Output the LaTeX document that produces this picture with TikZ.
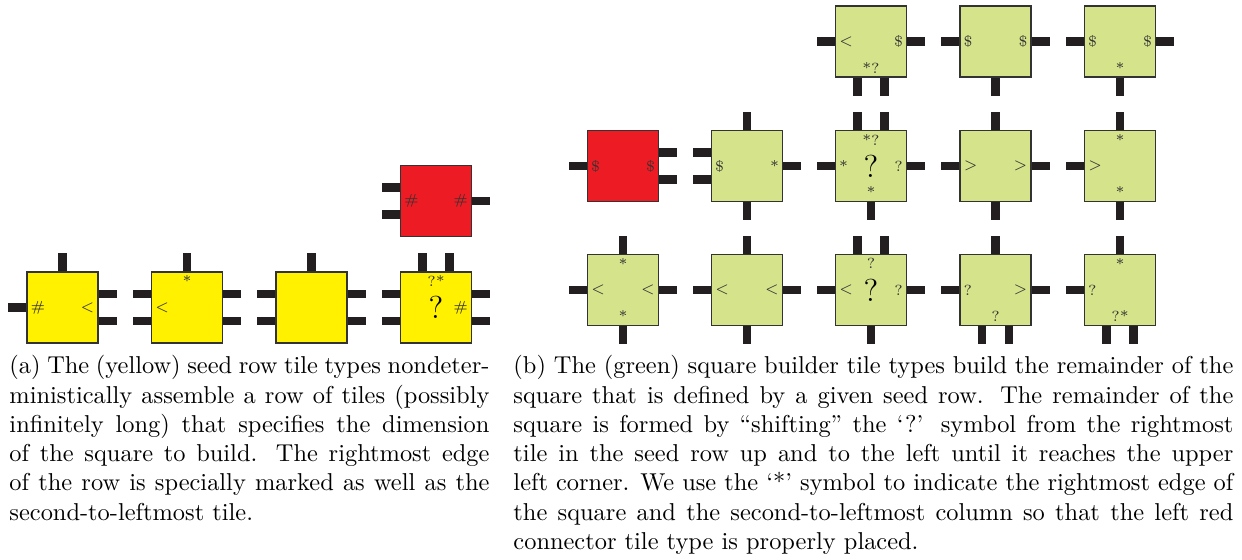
\documentclass[tikz,border=0pt]{standalone}
\usepackage{tikz}

\definecolor{seedyellow}{HTML}{FFF100}
\definecolor{capred}{HTML}{ED1C24}
\definecolor{buildgreen}{HTML}{D5E38B}
\definecolor{glue}{HTML}{231F20}

\begin{document}
\begin{tikzpicture}[
  x=0.4098pt, y=-0.4098pt,
  tile/.style={
    draw=black!80, line width=0.5pt, minimum size=29.1pt, inner sep=0pt,
    font=\fontsize{13}{15}\selectfont
  },
  seed/.style={tile, fill=seedyellow},
  build/.style={tile, fill=buildgreen},
  captile/.style={tile, fill=capred},
  sym/.style={font=\fontsize{6}{7}\selectfont, text=black!80, inner sep=1.5pt},
  symN/.style={label={[sym, anchor=north]north:#1}},
  symS/.style={label={[sym, anchor=south]south:#1}},
  symW/.style={label={[sym, anchor=west]west:#1}},
  symE/.style={label={[sym, anchor=east]east:#1}},
  tab/.style={draw=glue, line width=3.5pt},
  captext/.style={anchor=north west, inner sep=0pt, align=justify, font=\normalsize}
  ]
  \useasboundingbox (0,0) rectangle (1242,560);

  % (a) seed row
  \node [seed, symW=\#, symE=$<$] (seed1) at (62.5,307.5) {};
  \node [seed, symN=*, symW=$<$] (seed2) at (187,307.5) {};
  \node [seed] (seed3) at (311.5,307.5) {};
  \node [seed, symN=?*, symE=\#] (seed4) at (436,307.5) {?};
  \node [captile, symW=\#, symE=\#] (seedcap) at (436,201) {};

  % (b) square builder
  \node [build, symW=$<$, symE=\$, symS=*?] (sq13) at (871,41.5) {};
  \node [build, symW=\$, symE=\$] (sq14) at (995.5,41.5) {};
  \node [build, symW=\$, symE=\$, symS=*] (sq15) at (1120,41.5) {};

  \node [captile, symW=\$, symE=\$] (sqcap) at (623,166) {};
  \node [build, symW=\$, symE=*] (sq22) at (747,166) {};
  \node [build, symN=*?, symW=*, symE=?, symS=*] (sq23) at (871,166) {?};
  \node [build, symW=$>$, symE=$>$] (sq24) at (995.5,166) {};
  \node [build, symN=*, symW=$>$, symS=*] (sq25) at (1120,166) {};

  \node [build, symN=*, symW=$<$, symE=$<$, symS=*] (sq31) at (623,290) {};
  \node [build, symW=$<$, symE=$<$] (sq32) at (747,290) {};
  \node [build, symN=?, symW=$<$, symE=?] (sq33) at (871,290) {?};
  \node [build, symW=?, symE=$>$, symS=?] (sq34) at (995.5,290) {};
  \node [build, symN=*, symW=?, symS=?*] (sq35) at (1120,290) {};

  % glue tabs
  \foreach \t in {seed1,seed2,seed3,sq22,sq24,sq25,sq31,sq32,sq34,sq35}
    \draw [tab] (\t.north) -- ++(0,-18);
  \foreach \t in {seed4,sq23,sq33}
    \draw [tab] ([xshift=-5.5pt]\t.north) -- ++(0,-18)
                ([xshift=5.5pt]\t.north) -- ++(0,-18);
  \foreach \t in {sq14,sq15,sq22,sq23,sq24,sq25,sq31,sq32,sq33}
    \draw [tab] (\t.south) -- ++(0,18);
  \foreach \t in {sq13,sq34,sq35}
    \draw [tab] ([xshift=-5.5pt]\t.south) -- ++(0,18)
                ([xshift=5.5pt]\t.south) -- ++(0,18);
  \foreach \t in {seed1,sqcap,sq13,sq14,sq15,sq23,sq24,sq25,sq31,sq32,sq33,sq34,sq35}
    \draw [tab] (\t.west) -- ++(-18,0);
  \foreach \t in {seed2,seed3,seed4,seedcap,sq22}
    \draw [tab] ([yshift=5.5pt]\t.west) -- ++(-18,0)
                ([yshift=-5.5pt]\t.west) -- ++(-18,0);
  \foreach \t in {seedcap,sq13,sq14,sq15,sq22,sq23,sq24,sq31,sq32,sq33,sq34}
    \draw [tab] (\t.east) -- ++(18,0);
  \foreach \t in {seed1,seed2,seed3,seed4,sqcap}
    \draw [tab] ([yshift=5.5pt]\t.east) -- ++(18,0)
                ([yshift=-5.5pt]\t.east) -- ++(18,0);

  % captions
  \node [captext, text width=196.7pt] (capa) at (9,355) {(a) The (yellow) seed
    row tile types nondeter-\linebreak ministically assemble a row of tiles
    (possibly\linebreak infinitely long) that specifies the dimension\linebreak
    of the square to build. The rightmost edge\linebreak of the row is
    specially marked as well as the\linebreak second-to-leftmost tile.};
  \node [captext, text width=295pt] (capb) at (513,355) {(b) The (green) square
    builder tile types build the remainder of the\linebreak square that is
    defined by a given seed row. The remainder of the\linebreak square is
    formed by “shifting” the ‘?’ symbol from the rightmost\linebreak tile in
    the seed row up and to the left until it reaches the upper\linebreak left
    corner. We use the ‘*’ symbol to indicate the rightmost edge of\linebreak
    the square and the second-to-leftmost column so that the left
    red\linebreak connector tile type is properly placed.};
\end{tikzpicture}
\end{document}
